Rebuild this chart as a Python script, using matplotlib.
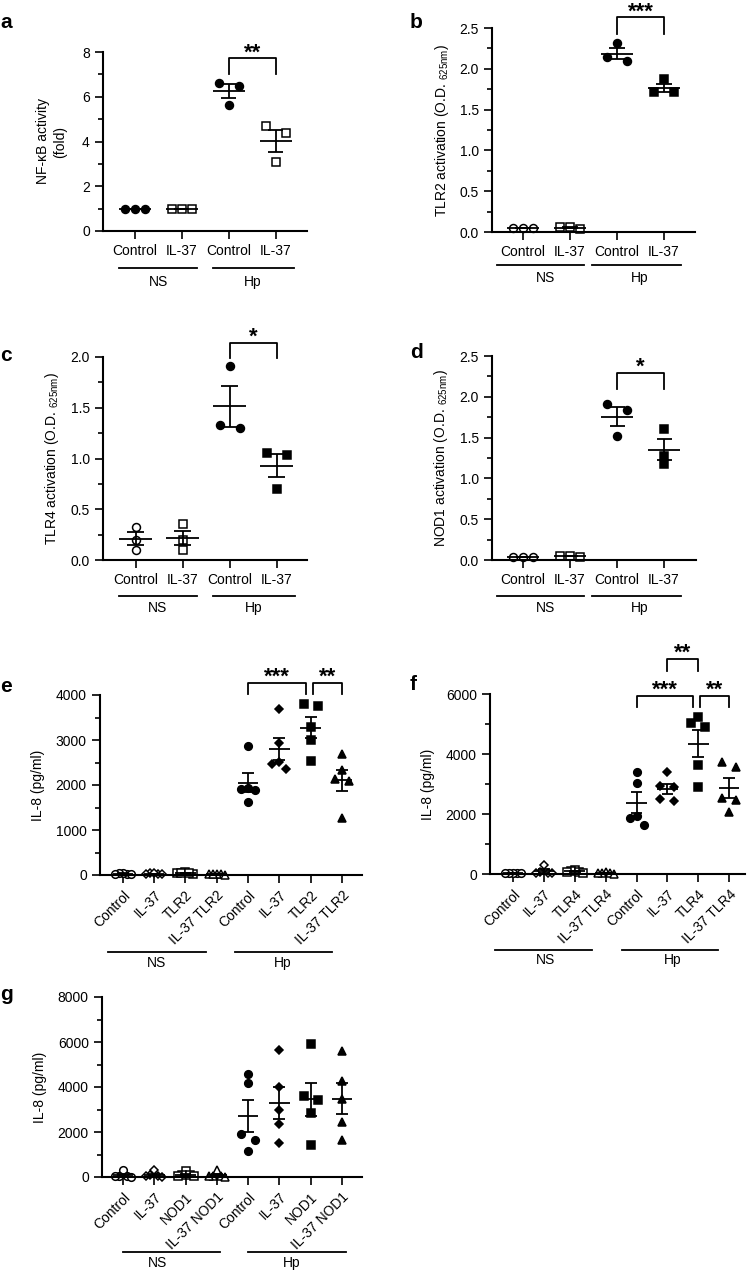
import numpy as np
import matplotlib
matplotlib.use('Agg')
import matplotlib.pyplot as plt
from matplotlib import transforms
from matplotlib.ticker import MultipleLocator, FormatStrFormatter

plt.rcParams['font.family'] = ['Liberation Sans', 'DejaVu Sans']
plt.rcParams['mathtext.default'] = 'regular'
plt.rcParams['font.size'] = 10

# ---- data ----
labels_ad = ['Control', 'IL-37', 'Control', 'IL-37']

nfkb_fold = [[1.0, 1.0, 1.0], [1.0, 1.0, 1.0],
             [6.62, 6.47, 5.63], [4.69, 4.36, 3.07]]
tlr2_od = [[0.05, 0.05, 0.05], [0.04, 0.06, 0.06],
           [2.32, 2.14, 2.10], [1.87, 1.71, 1.72]]
tlr4_od = [[0.33, 0.20, 0.10], [0.35, 0.20, 0.10],
           [1.91, 1.33, 1.30], [1.05, 1.03, 0.70]]
nod1_od = [[0.04, 0.04, 0.04], [0.04, 0.05, 0.05],
           [1.91, 1.84, 1.52], [1.60, 1.28, 1.18]]

labels_tlr2 = ['Control', 'IL-37', 'TLR2', 'IL-37 TLR2'] * 2
il8_tlr2 = [[30, 45, 20, 35, 25], [25, 35, 20, 40, 15],
            [40, 70, 30, 55, 45], [20, 30, 15, 25, 10],
            [2870, 1930, 1900, 1920, 1620], [3690, 2930, 2520, 2470, 2360],
            [3800, 3755, 3280, 3000, 2540], [2690, 2330, 2130, 2100, 1270]]

labels_tlr4 = ['Control', 'IL-37', 'TLR4', 'IL-37 TLR4'] * 2
il8_tlr4 = [[30, 50, 20, 40, 25], [300, 80, 50, 40, 30],
            [150, 100, 80, 60, 40], [60, 40, 30, 20, 10],
            [3400, 3030, 1950, 1880, 1620], [3390, 2950, 2900, 2500, 2420],
            [5240, 5020, 4890, 3630, 2910], [3740, 3580, 2520, 2470, 2080]]

labels_nod1 = ['Control', 'IL-37', 'NOD1', 'IL-37 NOD1'] * 2
il8_nod1 = [[300, 60, 40, 30, 20], [320, 70, 50, 30, 20],
            [250, 90, 70, 50, 30], [300, 60, 40, 30, 20],
            [4590, 4190, 1930, 1630, 1140], [5660, 4000, 2960, 2340, 1510],
            [5920, 3600, 3440, 2840, 1440], [5620, 4250, 3450, 2450, 1630]]

W, H = 750, 1272
fig = plt.figure(figsize=(W / 100, H / 100), dpi=100)


def make_ax(left, right, top, bottom):
    return fig.add_axes([left / W, 1 - bottom / H, (right - left) / W, (bottom - top) / H])


def style_ax(ax, ylim, major, minor, fmt=None):
    ax.set_ylim(*ylim)
    ax.yaxis.set_major_locator(MultipleLocator(major))
    ax.yaxis.set_minor_locator(MultipleLocator(minor))
    if fmt:
        ax.yaxis.set_major_formatter(FormatStrFormatter(fmt))
    for s in ['top', 'right']:
        ax.spines[s].set_visible(False)
    for s in ['left', 'bottom']:
        ax.spines[s].set_linewidth(1.5)
    ax.tick_params(axis='both', which='major', direction='out', length=6, width=1.2, labelsize=10)
    ax.tick_params(axis='y', which='minor', direction='out', length=3.5, width=1.2)
    ax.tick_params(axis='x', which='minor', bottom=False)


def swarm_x(ax, x, vals, r_px, d_px, max_half_px):
    # simple symmetric swarm: points closer than r_px vertically share a row
    ys = ax.transData.transform([(x, v) for v in vals])[:, 1]
    order = np.argsort(ys)
    clusters, cur = [], [order[0]]
    for i in order[1:]:
        if ys[i] - ys[cur[-1]] < r_px:
            cur.append(i)
        else:
            clusters.append(cur)
            cur = [i]
    clusters.append(cur)
    off = np.zeros(len(vals))
    for c in clusters:
        n = len(c)
        if n == 1:
            continue
        if n % 2:
            slots = [0] + [s * k for k in range(1, (n - 1) // 2 + 1) for s in (-1, 1)]
            span = (n - 1) / 2 * d_px
        else:
            slots = [s * k for k in range(1, n // 2 + 1) for s in (-1, 1)]
            span = n / 2 * d_px
        scale = min(1.0, max_half_px / span)
        desc = sorted(c, key=lambda i: -ys[i])
        for i, s in zip(desc, slots):
            off[i] = s * d_px * scale
    px_unit = ax.transData.transform((1, 0))[0] - ax.transData.transform((0, 0))[0]
    return x + off / px_unit


def draw_groups(ax, data, markers, faces, sizes, d_px, mean_half, cap_half, max_half_px):
    for i, vals in enumerate(data):
        vals = np.asarray(vals, float)
        xs = swarm_x(ax, i, vals, 8, d_px, max_half_px)
        ax.plot(xs, vals, ls='none', marker=markers[i], ms=sizes[i], mfc=faces[i],
                mec='black', mew=1.1, clip_on=False, zorder=2)
        m = vals.mean()
        sem = vals.std(ddof=1) / np.sqrt(len(vals))
        kw = dict(color='black', lw=1.3, zorder=3, clip_on=False)
        ax.hlines(m, i - mean_half, i + mean_half, **kw)
        ax.vlines(i, m - sem, m + sem, **kw)
        ax.hlines([m - sem, m + sem], i - cap_half, i + cap_half, **kw)


def bracket(ax, x0, x1, ytop, yend, text):
    ax.plot([x0, x0, x1, x1], [yend, ytop, ytop, yend], color='black', lw=1.3, clip_on=False)
    ax.annotate(text, xy=((x0 + x1) / 2, ytop), xytext=(0, 0), textcoords='offset points',
                ha='center', va='baseline', fontsize=16, fontweight='bold', annotation_clip=False)


def group_label(ax, x0, x1, tx, text, line_px, text_px):
    base = transforms.blended_transform_factory(ax.transData, ax.transAxes)
    tl = base + transforms.ScaledTranslation(0, -line_px / 100, fig.dpi_scale_trans)
    tt = base + transforms.ScaledTranslation(0, -text_px / 100, fig.dpi_scale_trans)
    ax.plot([x0, x1], [0, 0], transform=tl, color='black', lw=1.3, clip_on=False)
    ax.text(tx, 0, text, transform=tt, ha='center', va='center', fontsize=10)


od_label = 'activation (O.D. $_{625nm}$)'
sz4 = [5.7, 5.7, 5.7, 5.7]

# ---- panel a ----
ax = make_ax(103, 307, 52, 231)
ax.set_xlim(-0.67, 3.66)
style_ax(ax, (0, 8), 2, 1)
ax.set_xticks(range(4))
ax.set_xticklabels(labels_ad)
draw_groups(ax, nfkb_fold, ['o', 's', 'o', 's'], ['black', 'white', 'black', 'white'], sz4,
            10, 0.34, 0.16, 12)
bracket(ax, 2, 3, 7.72, 7.0, '**')
ax.set_ylabel('NF-\u03baB activity\n(fold)', fontsize=10, labelpad=11)
group_label(ax, -0.32, 1.32, 0.5, 'NS', 37, 51)
group_label(ax, 1.66, 3.38, 2.5, 'Hp', 37, 51)

# ---- panel b ----
ax = make_ax(492, 695, 28, 232)
ax.set_xlim(-0.66, 3.66)
style_ax(ax, (0, 2.5), 0.5, 0.25, '%.1f')
ax.set_xticks(range(4))
ax.set_xticklabels(labels_ad)
draw_groups(ax, tlr2_od, ['o', 's', 'o', 's'], ['white', 'white', 'black', 'black'], sz4,
            10, 0.34, 0.16, 12)
bracket(ax, 2, 3, 2.63, 2.43, '***')
ax.set_ylabel('TLR2 ' + od_label, fontsize=10, labelpad=6)
group_label(ax, -0.55, 1.30, 0.47, 'NS', 33, 46)
group_label(ax, 1.47, 3.36, 2.49, 'Hp', 33, 46)

# ---- panel c ----
ax = make_ax(103, 307, 357, 560)
ax.set_xlim(-0.70, 3.64)
style_ax(ax, (0, 2.0), 0.5, 0.25, '%.1f')
ax.set_xticks(range(4))
ax.set_xticklabels(labels_ad)
draw_groups(ax, tlr4_od, ['o', 's', 'o', 's'], ['white', 'white', 'black', 'black'], sz4,
            10, 0.35, 0.18, 12)
bracket(ax, 2, 3, 2.14, 1.99, '*')
ax.set_ylabel('TLR4 ' + od_label, fontsize=10, labelpad=7)
group_label(ax, -0.35, 1.3, 0.47, 'NS', 36, 48)
group_label(ax, 1.65, 3.38, 2.5, 'Hp', 36, 48)

# ---- panel d ----
ax = make_ax(492, 696, 356, 560)
ax.set_xlim(-0.66, 3.68)
style_ax(ax, (0, 2.5), 0.5, 0.25, '%.1f')
ax.set_xticks(range(4))
ax.set_xticklabels(labels_ad)
draw_groups(ax, nod1_od, ['o', 's', 'o', 's'], ['white', 'white', 'black', 'black'], sz4,
            10, 0.34, 0.16, 12)
bracket(ax, 2, 3, 2.29, 2.10, '*')
ax.set_ylabel('NOD1 ' + od_label, fontsize=10, labelpad=7)
group_label(ax, -0.55, 1.30, 0.47, 'NS', 36, 48)
group_label(ax, 1.47, 3.36, 2.49, 'Hp', 36, 48)

# ---- panels e, f, g ----
mk8 = ['o', 'D', 's', '^'] * 2
fc8 = ['white'] * 4 + ['black'] * 4
sz8 = [5.5, 4.2, 5.5, 5.8] * 2


def il8_panel(ax, data, labels, xlim, ylim, major, minor):
    ax.set_xlim(*xlim)
    style_ax(ax, ylim, major, minor)
    ax.set_xticks(range(8))
    ax.set_xticklabels(labels, rotation=45, ha='right', rotation_mode='anchor')
    draw_groups(ax, data, mk8, fc8, sz8, 7, 0.33, 0.19, 8)
    ax.set_ylabel('IL-8 (pg/ml)', fontsize=10, labelpad=8)


ax = make_ax(100, 362, 695, 875)
il8_panel(ax, il8_tlr2, labels_tlr2, (-0.73, 7.64), (0, 4000), 1000, 500)
bracket(ax, 4, 5.85, 4267, 4022, '***')
bracket(ax, 6.07, 7, 4267, 4022, '**')
group_label(ax, -0.48, 2.65, 1.09, 'NS', 77, 88)
group_label(ax, 3.58, 6.68, 5.1, 'Hp', 77, 88)

ax = make_ax(490, 745, 694, 874)
il8_panel(ax, il8_tlr4, labels_tlr4, (-0.74, 7.51), (0, 6000), 2000, 1000)
bracket(ax, 4, 5.83, 5933, 5567, '***')
bracket(ax, 6.05, 7, 5933, 5567, '**')
bracket(ax, 5, 6, 7166, 6766, '**')
group_label(ax, -0.58, 2.56, 1.04, 'NS', 76, 86)
group_label(ax, 3.53, 6.63, 5.18, 'Hp', 76, 86)

ax = make_ax(102, 362, 997, 1177)
il8_panel(ax, il8_nod1, labels_nod1, (-0.67, 7.64), (0, 8000), 2000, 1000)
group_label(ax, 0.0, 3.1, 1.09, 'NS', 75, 86)
group_label(ax, 4.0, 7.12, 5.4, 'Hp', 75, 86)

# panel letters
for letter, x, y in [('a', 0, 23), ('b', 410, 23), ('c', 0, 355), ('d', 410, 353),
                     ('e', 0, 686), ('f', 410, 685), ('g', 0, 994)]:
    fig.text(x / W, 1 - y / H, letter, fontsize=15, fontweight='bold', ha='left', va='center')

fig.savefig('out.png', dpi=100)
